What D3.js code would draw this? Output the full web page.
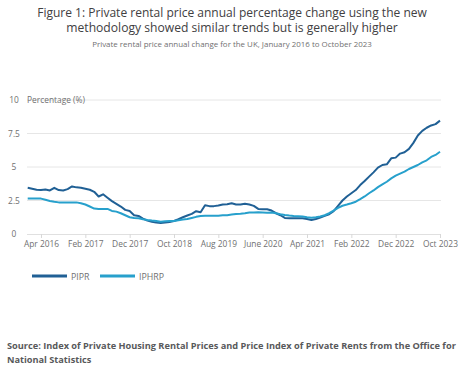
<!DOCTYPE html>
<html>
<head>
<meta charset="UTF-8">
<title>Private rental price annual change</title>
<script src="https://cdn.jsdelivr.net/npm/d3@7"></script>
<style>
    body { margin: 0; background: #fff; font-family: "Open Sans", sans-serif; }
    .grid line { stroke: #e6e6e6; }
    .tick text { fill: #707071; }
</style>
</head>
<body>
<svg id="chart" width="465" height="381"></svg>
<script>
// monthly, Jan 2016 .. Oct 2023
var pipr = [3.45, 3.38, 3.3, 3.28, 3.32, 3.25, 3.45, 3.28, 3.25, 3.35, 3.55, 3.48,
    3.45, 3.38, 3.3, 3.15, 2.8, 2.96, 2.7, 2.45, 2.25, 2.05, 1.8, 1.72,
    1.4, 1.35, 1.15, 1.0, 0.92, 0.85, 0.83, 0.85, 0.9, 0.97, 1.1, 1.25,
    1.38, 1.5, 1.7, 1.62, 2.15, 2.08, 2.08, 2.12, 2.2, 2.22, 2.29, 2.2,
    2.2, 2.26, 2.2, 2.1, 1.87, 1.85, 1.85, 1.75, 1.55, 1.4, 1.2, 1.17,
    1.17, 1.17, 1.17, 1.12, 1.05, 1.12, 1.22, 1.35, 1.47, 1.7, 2.1, 2.5,
    2.8, 3.04, 3.28, 3.65, 3.95, 4.28, 4.6, 4.95, 5.15, 5.2, 5.65, 5.7,
    6.0, 6.1, 6.35, 6.8, 7.35, 7.7, 7.93, 8.1, 8.2, 8.46];
var iphrp = [2.64, 2.64, 2.64, 2.64, 2.55, 2.46, 2.4, 2.36, 2.36, 2.36, 2.36, 2.36,
    2.3, 2.2, 2.05, 1.9, 1.87, 1.87, 1.87, 1.72, 1.67, 1.55, 1.4, 1.25,
    1.2, 1.17, 1.1, 1.04, 1.0, 0.97, 0.92, 0.95, 0.97, 0.97, 1.02, 1.08,
    1.12, 1.2, 1.28, 1.35, 1.37, 1.37, 1.37, 1.37, 1.4, 1.4, 1.45, 1.5,
    1.52, 1.55, 1.6, 1.6, 1.62, 1.6, 1.58, 1.6, 1.55, 1.48, 1.42, 1.38,
    1.35, 1.33, 1.3, 1.25, 1.22, 1.25, 1.3, 1.4, 1.55, 1.75, 1.95, 2.11,
    2.2, 2.3, 2.41, 2.6, 2.8, 3.04, 3.25, 3.5, 3.7, 3.9, 4.15, 4.35,
    4.5, 4.65, 4.85, 5.0, 5.15, 5.35, 5.5, 5.75, 5.9, 6.14];
var xTickLabels = ["Apr 2016", "Feb 2017", "Dec 2017", "Oct 2018", "Aug 2019",
    "June 2020", "Apr 2021", "Feb 2022", "Dec 2022", "Oct 2023"];
var xTickMonths = [3, 13, 23, 33, 43, 53, 63, 73, 83, 93];
var yTicks = [0, 2.5, 5, 7.5, 10];
var seriesNames = ["PIPR", "IPHRP"];
var colors = ["#206095", "#27a0cc"];

var svg = d3.select("#chart");

// shrink a text to a given width (fonts here are wider than the source)
function fit(t, w) {
    var size = parseFloat(t.style("font-size"));
    var cur = t.node().getComputedTextLength();
    if (cur > 0) t.style("font-size", (size * w / cur) + "px");
    return t;
}

// titles
fit(svg.append("text").attr("x", 232).attr("y", 17).attr("text-anchor", "middle")
    .style("font-size", "13px").style("fill", "#414042")
    .text("Figure 1: Private rental price annual percentage change using the new"), 390);
fit(svg.append("text").attr("x", 232).attr("y", 31.5).attr("text-anchor", "middle")
    .style("font-size", "13px").style("fill", "#414042")
    .text("methodology showed similar trends but is generally higher"), 332);
fit(svg.append("text").attr("x", 232).attr("y", 47).attr("text-anchor", "middle")
    .style("font-size", "8.6px").style("fill", "#707071")
    .text("Private rental price annual change for the UK, January 2016 to October 2023"), 280);

var x = d3.scaleLinear().domain([0, 93]).range([27.7, 440]);
var y = d3.scaleLinear().domain([0, 10]).range([234, 100]);

// grid
svg.append("g").attr("class", "grid")
    .selectAll("line").data(yTicks.filter(function (d) { return d > 0; }))
    .enter().append("line")
    .attr("x1", 27).attr("x2", 441)
    .attr("y1", function (d) { return y(d); })
    .attr("y2", function (d) { return y(d); });

// y labels
svg.append("g").selectAll("text").data(yTicks).enter().append("text")
    .attr("x", 14).attr("y", function (d) { return y(d) + 3; })
    .attr("text-anchor", "middle")
    .style("font-size", "8.4px").style("fill", "#707071")
    .text(function (d) { return d; });

svg.append("text").attr("x", 27).attr("y", 103)
    .style("font-size", "8.4px").style("fill", "#707071")
    .text("Percentage (%)");

// x axis
var xAxis = d3.axisBottom(x)
    .tickValues(xTickMonths)
    .tickFormat(function (d, i) { return xTickLabels[i]; })
    .tickSize(4).tickPadding(3);
var gx = svg.append("g").attr("transform", "translate(0," + y(0) + ")").call(xAxis);
gx.select(".domain").attr("stroke", "#e0e0e0").attr("d", "M27,0.5H441");
gx.selectAll(".tick line").attr("stroke", "#d8d8d8");
gx.selectAll(".tick text").style("font-size", "8.4px").style("font-family", "Open Sans");

// lines
var line = d3.line()
    .x(function (d, i) { return x(i); })
    .y(function (d) { return y(d); });

[pipr, iphrp].forEach(function (s, k) {
    svg.append("path").datum(s)
        .attr("fill", "none")
        .attr("stroke", colors[k])
        .attr("stroke-width", 2)
        .attr("stroke-linejoin", "round")
        .attr("d", line);
});

// legend
var lg = svg.append("g").selectAll("g").data(seriesNames).enter().append("g")
    .attr("transform", function (d, i) { return "translate(" + (32 + i * 68) + ",276)"; });
lg.append("line").attr("x1", 0).attr("x2", 35).attr("y1", 0).attr("y2", 0)
    .attr("stroke", function (d, i) { return colors[i]; }).attr("stroke-width", 3);
lg.append("text").attr("x", 39).attr("y", 3.5)
    .style("font-size", "8.8px").style("fill", "#707071")
    .text(function (d) { return d; });

// source
fit(svg.append("text").attr("x", 7).attr("y", 349)
    .style("font-size", "9.8px").style("font-weight", "bold").style("fill", "#58595b")
    .text("Source: Index of Private Housing Rental Prices and Price Index of Private Rents from the Office for"), 449);
svg.append("text").attr("x", 7).attr("y", 363)
    .style("font-size", "9.2px").style("font-weight", "bold").style("fill", "#58595b")
    .text("National Statistics");
</script>
</body>
</html>
